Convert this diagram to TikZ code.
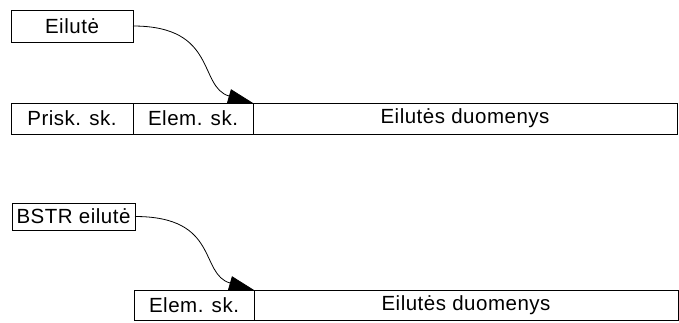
\documentclass[tikz,border=0pt]{standalone}
\usepackage{fontspec}
\setmainfont[LetterSpace=2.5]{Liberation Sans}
\usepackage{tikz}
\usetikzlibrary{arrows.meta,positioning}

\tikzset{
  cell/.style={draw, line width=1pt, minimum height=31pt, inner sep=0pt, outer sep=0pt,
    font=\fontsize{20.5}{21}\selectfont},
  ptr/.style={line width=0.8pt, -{Triangle[length=25pt,width=14pt]}}
}

\begin{document}
\begin{tikzpicture}[x=1pt,y=1pt]
\useasboundingbox (0,0) rectangle (679,-322);

% ordinary string
\node[cell, minimum width=122pt, minimum height=32pt, anchor=north west] (eilute) at (11,-10) {Eilutė};

\node[cell, minimum width=122pt, anchor=north west] (prisk) at (11,-103) {Prisk. sk.};
\node[cell, minimum width=120pt, right=0pt of prisk] (elem) {Elem. sk.};
\node[cell, minimum width=424pt, right=0pt of elem] (duom) {Eilutės duomenys};

\draw[ptr] (eilute.east) .. controls +(85,0) and +(-55,16) .. (elem.north east);

% BSTR string
\node[cell, minimum width=123pt, minimum height=27pt, anchor=north west] (bstr) at (12,-203) {BSTR eilutė};

\node[cell, minimum width=120pt, minimum height=30pt, anchor=north west] (elemb) at (134,-290) {Elem. sk.};
\node[cell, minimum width=424pt, minimum height=30pt, right=0pt of elemb] (duomb) {Eilutės duomenys};

\draw[ptr] (bstr.east) .. controls +(85,0) and +(-55,16) .. (elemb.north east);

\end{tikzpicture}
\end{document}
